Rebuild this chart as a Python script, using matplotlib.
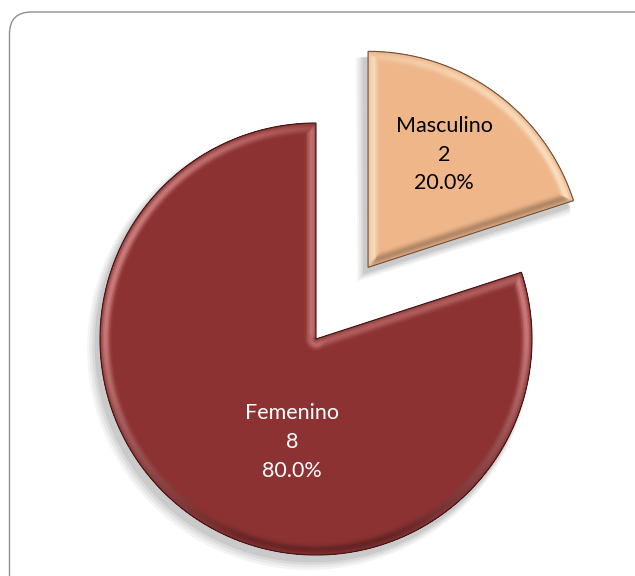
import numpy as np
import matplotlib
matplotlib.use('Agg')
import matplotlib.pyplot as plt
from matplotlib.collections import LineCollection
from matplotlib.patches import FancyBboxPatch, Polygon
from matplotlib.colors import to_rgb

# data
labels = ['Masculino', 'Femenino']
counts = [2, 8]
colors = ['#EFB68A', '#8C3232']
text_colors = ['black', 'white']
explode = [0.41, 0.0]

W, H = 635, 576
CX, CY, R = 316, H - 339, 216
# label placement (fraction of radius, angle in degrees from wedge centre)
label_pos = [(0.63, 56), (0.49, 257)]
light_cols = ['#FFF6DC', '#F0A8A8']


def wedge_points(w, n=240):
    t = np.radians(np.linspace(w.theta1, w.theta2, n))
    cx, cy = w.center
    arc = np.column_stack([cx + w.r * np.cos(t), cy + w.r * np.sin(t)])
    return np.vstack([[cx, cy], arc, [[cx, cy]]])


def bevel(ax, w, base, light, band=11):
    pts = wedge_points(w)
    segs = np.stack([pts[:-1], pts[1:]], axis=1)
    d = segs[:, 1] - segs[:, 0]
    nrm = np.column_stack([d[:, 1], -d[:, 0]])
    nrm /= np.linalg.norm(nrm, axis=1, keepdims=True) + 1e-9
    nx, ny = nrm[:, 0], nrm[:, 1]
    lit = np.clip(np.abs(nx) * 0.95 + np.clip(ny, 0, 1) * 0.35 - np.clip(-ny, 0, 1) * 0.35, 0, 1)
    dark = np.clip(-ny, 0, 1) * 0.45 + np.clip(nx, 0, 1) * np.clip(-ny, 0, 1) * 0.2
    base = np.array(to_rgb(base))
    light = np.array(to_rgb(light))
    clip = Polygon(pts, closed=True, transform=ax.transData, facecolor='none', edgecolor='none')
    ax.add_patch(clip)
    nlay = 8
    for k in range(nlay):
        f = k / (nlay - 1)
        width_px = 2 * band * (1 - f) + 2
        prof = np.sin(np.pi * (0.15 + 0.8 * f)) ** 2 * (0.3 + 0.7 * f)
        col = base[None, :] * (1 - lit[:, None] * prof) + light[None, :] * lit[:, None] * prof
        col = col * (1 - dark[:, None] * prof * 0.9)
        lc = LineCollection(segs, colors=np.clip(col, 0, 1), linewidths=width_px * 72 / 100,
                            capstyle='round', joinstyle='round', alpha=0.65, zorder=4)
        lc.set_clip_path(clip)
        ax.add_collection(lc)
    ax.add_patch(Polygon(pts, closed=True, facecolor='none', edgecolor=base * 0.45,
                         linewidth=0.8, zorder=5))


fig = plt.figure(figsize=(W / 100, H / 100), dpi=100)
ax = fig.add_axes([0, 0, 1, 1])

frame = FancyBboxPatch((9.5, -20), W + 20, H - 12 + 20, boxstyle='round,pad=0,rounding_size=22',
                       facecolor='white', edgecolor='#8F8F8F', linewidth=1.0, zorder=0)
ax.add_patch(frame)

wedges, _ = ax.pie(counts, explode=[e * R for e in explode], startangle=90, counterclock=False,
                   radius=R, center=(CX, CY), colors=colors,
                   wedgeprops=dict(linewidth=0))

# soft drop shadow
for w in wedges:
    pts = wedge_points(w)
    for k, a in enumerate([0.10, 0.13, 0.17, 0.24]):
        off = np.array([-7.0 + k, -9.0 + k])
        c = pts.mean(axis=0)
        grow = (4 - k) * 1.5
        p = pts + off + (pts - c) / (np.linalg.norm(pts - c, axis=1, keepdims=True) + 1e-9) * grow
        ax.add_patch(Polygon(p, closed=True, facecolor='#9A9A9A', edgecolor='none', alpha=a, zorder=2))

for w, base, light in zip(wedges, colors, light_cols):
    w.set_zorder(3)
    bevel(ax, w, base, light)

total = sum(counts)
for w, lab, n, tc, (rf, ang) in zip(wedges, labels, counts, text_colors, label_pos):
    cx, cy = w.center
    a = np.radians(ang)
    ax.text(cx + rf * R * np.cos(a), cy + rf * R * np.sin(a),
            f'{lab}\n{n}\n{100 * n / total:.1f}%', ha='center', va='center',
            color=tc, fontsize=15.5, family='Lato', linespacing=1.55, zorder=6)

ax.set_xlim(0, W)
ax.set_ylim(0, H)
ax.set_aspect('equal')
ax.axis('off')
fig.savefig('out.png', dpi=100)
